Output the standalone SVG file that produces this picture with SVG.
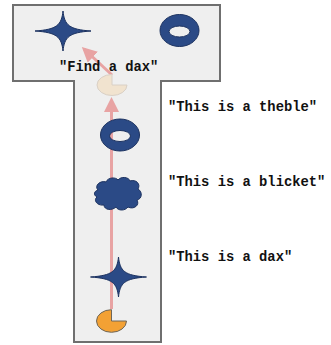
<svg xmlns="http://www.w3.org/2000/svg" width="331" height="345" viewBox="0 0 331 345">
  <style>
    .frame { fill: #efefef; stroke: #6f6f6f; stroke-width: 2; }
    .blue { fill: #2b4a86; stroke: #1c3260; stroke-width: 1; }
    .label { font-family: "Liberation Mono", "Courier New", monospace; font-weight: bold; font-size: 13.8px; fill: #111; }
    .path { stroke: #e8a3a3; stroke-width: 3; fill: none; marker-end: url(#head); }
  </style>
  <defs>
    <marker id="head" viewBox="0 0 10 10" refX="8" refY="5" markerWidth="5" markerHeight="5" orient="auto" markerUnits="strokeWidth">
      <path d="M0,0 L10,5 L0,10 Z" fill="#e8a3a3"/>
    </marker>
    <!-- four-pointed star with concave sides -->
    <path id="star" d="M0,-20 C1.5,-6 6,-1.5 28,0 C6,1.5 1.5,6 0,20 C-1.5,6 -6,1.5 -28,0 C-6,-1.5 -1.5,-6 0,-20 Z"/>
    <path id="ring" fill-rule="evenodd" d="M-19.5,0 A19.5,16 0 1 0 19.5,0 A19.5,16 0 1 0 -19.5,0 Z M-10.5,1 A10.5,5.5 0 1 1 10.5,1 A10.5,5.5 0 1 1 -10.5,1 Z"/>
  </defs>

  <!-- T-shaped board -->
  <path class="frame" d="M13,5 H220 V81 H161 V342 H74 V81 H13 Z"/>

  <!-- connectors -->
  <g id="connectors">
    <line class="path" x1="111.5" y1="309" x2="111.5" y2="100"/>
    <line class="path" x1="112" y1="75" x2="84" y2="49"/>
  </g>

  <g id="star-top"><use href="#star" class="blue" x="63" y="31"/></g>
  <g id="ring-top"><use href="#ring" class="blue" x="179.5" y="30.5"/></g>
  <g id="label-find"><text class="label" x="59" y="71">"Find a dax"</text></g>

  <g id="pac-goal">
    <path d="M112,85 V74.5 A15,10.5 0 1 0 127,85 Z" fill="#f1e3cf" stroke="#d9d0c6" stroke-width="1"/>
  </g>

  <g id="ring-mid"><use href="#ring" class="blue" x="120" y="135"/></g>
  <g id="label-theble"><text class="label" x="168" y="111">"This is a theble"</text></g>

  <g id="cloud">
    <path class="blue" d="M98,190 C94,186 100,180 106,182 C108,177 116,177 118,180 C121,176 129,177 130,181 C136,179 141,184 138,189 C143,192 142,199 137,200 C140,205 134,210 128,207 C125,211 118,211 116,207 C112,211 104,210 104,205 C97,206 93,200 97,197 C93,195 94,191 98,190 Z"/>
  </g>
  <g id="label-blicket"><text class="label" x="168" y="186">"This is a blicket"</text></g>

  <g id="star-bottom"><use href="#star" class="blue" x="118.5" y="277"/></g>
  <g id="label-dax"><text class="label" x="168" y="261">"This is a dax"</text></g>

  <g id="pac-start">
    <path d="M111.5,321 V309.7 A15,11.3 0 1 0 126.5,321 Z" fill="#f3a134" stroke="#6e6658" stroke-width="1"/>
  </g>
</svg>
